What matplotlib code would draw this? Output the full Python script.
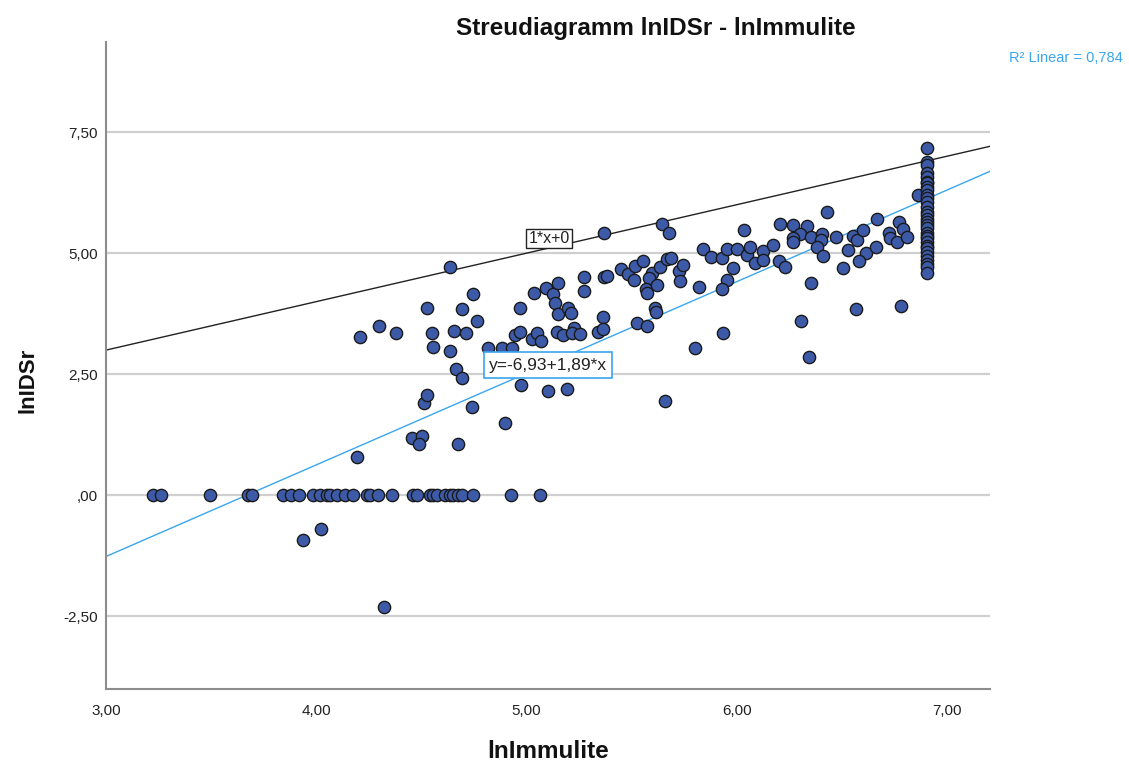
import matplotlib
matplotlib.use("Agg")
import matplotlib.pyplot as plt
import numpy as np

plt.rcParams['font.family'] = ['Liberation Sans', 'DejaVu Sans']

# zero-valued observations (lnIDSr = 0)
zero_x = [3.221, 3.260, 3.493, 3.674, 3.693, 3.840, 3.879, 3.917, 3.983, 4.017,
          4.050, 4.064, 4.098, 4.136, 4.174, 4.240, 4.255, 4.293, 4.360, 4.460,
          4.479, 4.540, 4.555, 4.574, 4.612, 4.636, 4.650, 4.674, 4.693, 4.745,
          4.926, 5.064]

# other observations
pts_x = [3.936, 4.021, 4.321,
         4.193, 4.455, 4.502, 4.488, 4.674, 4.512, 4.526, 4.740, 4.898, 4.664, 4.693,
         4.974, 5.102, 5.193, 5.660, 5.802, 5.936, 6.307, 6.345, 6.569, 6.783,
         4.207, 4.298, 4.379, 4.526, 4.550, 4.555, 4.636, 4.655, 4.712, 4.693,
         4.745, 4.764, 4.636, 4.817, 4.883, 4.931, 4.969, 4.945, 4.969, 5.026,
         5.050, 5.069, 5.036, 5.093, 5.126, 5.150, 5.136, 5.150, 5.198, 5.210,
         5.145, 5.174, 5.226, 5.217, 5.255, 5.274, 5.274, 5.340, 5.364, 5.364,
         5.369, 5.383, 5.369, 5.450, 5.483, 5.517, 5.512, 5.555, 5.598, 5.583,
         5.569, 5.574, 5.621, 5.636, 5.669, 5.688, 5.645, 5.679, 5.526, 5.574,
         5.612, 5.617, 5.726, 5.745, 5.731, 5.821, 5.840, 5.879, 5.931, 5.955,
         6.002, 6.050, 6.064, 6.088, 6.126, 6.126, 6.174, 6.036, 5.983, 5.955,
         5.931, 6.202, 6.231, 6.207, 6.269, 6.336, 6.302, 6.269, 6.269, 6.355,
         6.407, 6.402, 6.383, 6.412, 6.355, 6.431, 6.474, 6.531, 6.507, 6.555,
         6.574, 6.602, 6.669, 6.617, 6.583, 6.664, 6.726, 6.731, 6.764, 6.774,
         6.793, 6.812, 6.864]
pts_y = [-0.93, -0.70, -2.31,
         0.79, 1.18, 1.22, 1.05, 1.05, 1.90, 2.07, 1.82, 1.49, 2.60, 2.42,
         2.27, 2.15, 2.19, 1.94, 3.04, 3.35, 3.60, 2.85, 3.84, 3.90,
         3.26, 3.49, 3.35, 3.86, 3.35, 3.06, 2.98, 3.39, 3.35, 3.84,
         4.15, 3.60, 4.71, 3.04, 3.04, 3.04, 3.86, 3.31, 3.37, 3.22,
         3.35, 3.18, 4.17, 4.28, 4.15, 4.38, 3.97, 3.74, 3.86, 3.76,
         3.37, 3.31, 3.45, 3.35, 3.33, 4.50, 4.21, 3.37, 3.68, 3.43,
         4.50, 4.52, 5.41, 4.67, 4.57, 4.73, 4.44, 4.83, 4.59, 4.48,
         4.26, 4.17, 4.34, 4.71, 4.88, 4.90, 5.60, 5.41, 3.55, 3.49,
         3.86, 3.78, 4.63, 4.75, 4.42, 4.30, 5.08, 4.92, 4.90, 5.08,
         5.08, 4.96, 5.12, 4.79, 5.04, 4.86, 5.17, 5.48, 4.69, 4.44,
         4.26, 4.83, 4.71, 5.60, 5.58, 5.56, 5.39, 5.31, 5.23, 5.33,
         5.39, 5.27, 5.12, 4.94, 4.38, 5.85, 5.33, 5.06, 4.69, 5.35,
         5.27, 5.48, 5.70, 5.00, 4.83, 5.12, 5.41, 5.31, 5.23, 5.64,
         5.50, 5.33, 6.20]

# column at the upper limit of lnImmulite (ln 1000)
col_x_value = 6.908
col_y = [7.17, 6.88, 6.82, 6.65, 6.57, 6.47, 6.45, 6.36, 6.30, 6.20, 6.14, 6.05,
         5.95, 5.85, 5.79, 5.70, 5.64, 5.58, 5.52, 5.41, 5.35, 5.31, 5.23, 5.15,
         5.10, 5.02, 4.95, 4.86, 4.78, 4.71, 4.59]

# reference line and fit
ref_slope, ref_icpt = 1.0, 0.0
fit_icpt, fit_slope = -6.93, 1.89
r2 = "0,784"

xticks = [3, 4, 5, 6, 7]
xticklabels = ["3,00", "4,00", "5,00", "6,00", "7,00"]
yticks = [-2.5, 0, 2.5, 5, 7.5]
yticklabels = ["-2,50", ",00", "2,50", "5,00", "7,50"]

x_all = np.array(zero_x + pts_x + [col_x_value] * len(col_y))
y_all = np.array([0.0] * len(zero_x) + pts_y + col_y)

fig = plt.figure(figsize=(11.29, 7.64), dpi=100)
ax = fig.add_axes([0.0943, 0.0982, 0.877 - 0.0943, 0.945 - 0.0982])
ax.set_xlim(3.0, 7.207)
ax.set_ylim(-4.0, 9.36)

for s in ['top', 'right']:
    ax.spines[s].set_visible(False)
for s in ['left', 'bottom']:
    ax.spines[s].set_color('#8c8c8c')
    ax.spines[s].set_linewidth(1.5)

ax.set_yticks(yticks)
ax.set_yticklabels(yticklabels)
ax.set_xticks(xticks)
ax.set_xticklabels(xticklabels)
ax.tick_params(axis='both', length=0, labelsize=11, colors='#222222')
ax.tick_params(axis='y', pad=6)
ax.tick_params(axis='x', pad=11)
ax.yaxis.grid(True, color='#cfcfcf', linewidth=1.6)
ax.set_axisbelow(True)

xl = np.array([3.0, 7.207])
ax.plot(xl, ref_icpt + ref_slope * xl, color='#222222', linewidth=1.0, zorder=2)
ax.plot(xl, fit_icpt + fit_slope * xl, color='#3aa6ee', linewidth=1.0, zorder=2)

ax.scatter(x_all, y_all, s=78, facecolor='#3c5aa8', edgecolor='#1a1a1a',
           linewidth=1.0, zorder=3)

ax.text(5.107, 5.31, "1*x+0", ha='center', va='center', fontsize=11.5,
        color='#222222', zorder=5,
        bbox=dict(boxstyle='square,pad=0.12', facecolor='white', edgecolor='#222222', linewidth=1.0))
ax.text(5.102, 2.69, "y=-6,93+1,89*x", ha='center', va='center', fontsize=12.5,
        color='#222222', zorder=5,
        bbox=dict(boxstyle='square,pad=0.3', facecolor='white', edgecolor='#3aa6ee', linewidth=1.2))

fig.text(1066 / 1129, 1 - 58 / 764, "R² Linear = " + r2, ha='center', va='center',
         fontsize=10.5, color='#3aa6ee')
fig.text(656 / 1129, 1 - 28 / 764, "Streudiagramm lnIDSr - lnImmulite", ha='center',
         va='center', fontsize=17.5, fontweight='bold', color='#111111')
fig.text(548 / 1129, 1 - 752 / 764, "lnImmulite", ha='center', va='center',
         fontsize=17.5, fontweight='bold', color='#111111')
fig.text(28 / 1129, 1 - 380 / 764, "lnIDSr", ha='center', va='center', rotation=90,
         fontsize=16, fontweight='bold', color='#111111')

fig.savefig("out.png", dpi=100, facecolor='white')
